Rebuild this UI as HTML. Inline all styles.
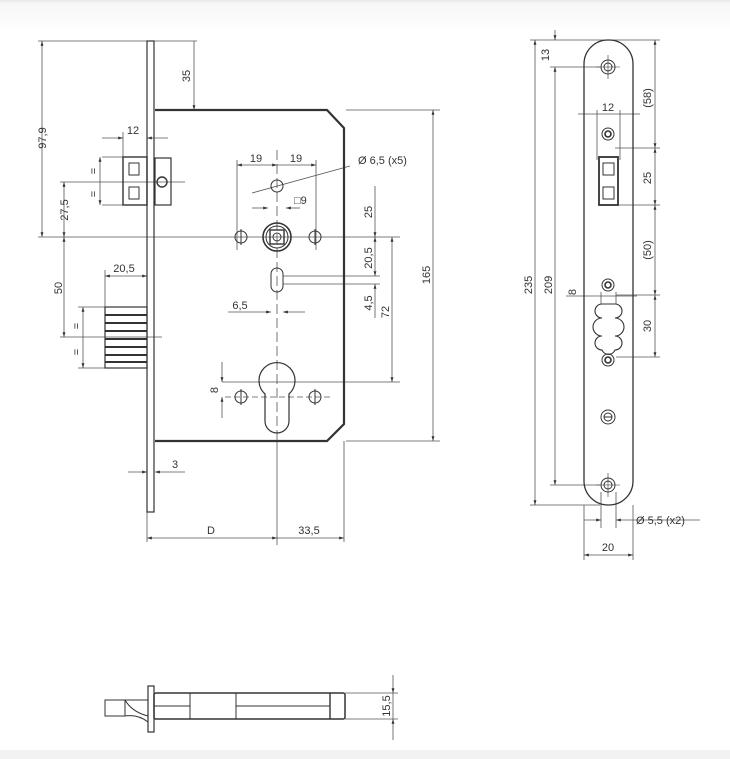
<!DOCTYPE html>
<html><head><style>
html,body{margin:0;padding:0;background:#fff}
svg{display:block}
text{font-family:"Liberation Sans",sans-serif;font-size:11px;fill:#333}
</style></head><body>
<svg width="730" height="759" viewBox="0 0 730 759" xmlns="http://www.w3.org/2000/svg">
<defs>
<linearGradient id="g" x1="0" y1="0" x2="0" y2="1"><stop offset="0" stop-color="#e6e6e6"/><stop offset="0.1" stop-color="#f6f6f6"/><stop offset="1" stop-color="#fff"/></linearGradient>
<marker id="a" viewBox="0 0 10 10" refX="10" refY="5" markerWidth="6" markerHeight="6" orient="auto-start-reverse"><path d="M0,2 L10,5 L0,8z" fill="#333"/></marker>
</defs>
<rect x="0" y="0" width="730" height="32" fill="url(#g)"/>
<rect x="0" y="750" width="730" height="9" fill="#f2f2f2"/>

<g stroke="#555" stroke-width="0.8" fill="none">
<line x1="38" y1="41" x2="197" y2="41"/>
<line x1="38" y1="237" x2="400" y2="237"/>
<line x1="60" y1="182" x2="185" y2="182"/>
<line x1="60" y1="337" x2="162" y2="337"/>
<line x1="346" y1="110" x2="440" y2="110"/>
<line x1="346" y1="441" x2="440" y2="441"/>
<line x1="283" y1="276" x2="380" y2="276"/>
<line x1="283" y1="284" x2="380" y2="284"/>
<line x1="222" y1="382" x2="400" y2="382"/>
<line x1="147" y1="440" x2="147" y2="542"/>
<line x1="344" y1="441" x2="344" y2="542"/>
<line x1="277" y1="430" x2="277" y2="545"/>
<line x1="237" y1="160" x2="237" y2="250"/>
<line x1="316" y1="160" x2="316" y2="250"/>
<line x1="102" y1="157" x2="123" y2="157"/>
<line x1="102" y1="205" x2="123" y2="205"/>
<line x1="78" y1="307" x2="105" y2="307"/>
<line x1="78" y1="368" x2="105" y2="368"/>
<line x1="105" y1="270" x2="105" y2="307"/>
<line x1="123" y1="132" x2="123" y2="157"/>
<line x1="42" y1="41" x2="42" y2="237" marker-start="url(#a)" marker-end="url(#a)"/>
<line x1="194" y1="41" x2="194" y2="110" marker-end="url(#a)"/>
<line x1="64" y1="182" x2="64" y2="237" marker-start="url(#a)" marker-end="url(#a)"/>
<line x1="64" y1="237" x2="64" y2="337" marker-start="url(#a)" marker-end="url(#a)"/>
<line x1="100" y1="157" x2="100" y2="205" marker-start="url(#a)" marker-end="url(#a)"/>
<line x1="83" y1="307" x2="83" y2="368" marker-start="url(#a)" marker-end="url(#a)"/>
<line x1="102" y1="138" x2="123" y2="138" marker-end="url(#a)"/>
<line x1="168" y1="138" x2="147" y2="138" marker-end="url(#a)"/>
<line x1="105" y1="276" x2="147" y2="276" marker-start="url(#a)" marker-end="url(#a)"/>
<line x1="237" y1="165" x2="277" y2="165" marker-start="url(#a)" marker-end="url(#a)"/>
<line x1="277" y1="165" x2="316" y2="165" marker-end="url(#a)"/>
<line x1="277" y1="150" x2="277" y2="430" stroke-dasharray="10,4"/>
<line x1="252" y1="208" x2="268" y2="208" marker-end="url(#a)"/>
<line x1="300" y1="208" x2="286" y2="208" marker-end="url(#a)"/>
<line x1="252" y1="193" x2="350" y2="166"/>
<line x1="228" y1="312" x2="271" y2="312" marker-end="url(#a)"/>
<line x1="305" y1="312" x2="283" y2="312" marker-end="url(#a)"/>
<line x1="375" y1="186" x2="375" y2="237" marker-end="url(#a)"/>
<line x1="375" y1="237" x2="375" y2="276" marker-start="url(#a)" marker-end="url(#a)"/>
<line x1="375" y1="284" x2="375" y2="318" marker-start="url(#a)"/>
<line x1="392" y1="237" x2="392" y2="382" marker-start="url(#a)" marker-end="url(#a)"/>
<line x1="433" y1="110" x2="433" y2="441" marker-start="url(#a)" marker-end="url(#a)"/>
<line x1="222" y1="362" x2="222" y2="382" marker-end="url(#a)"/>
<line x1="222" y1="418" x2="222" y2="397" marker-end="url(#a)"/>
<line x1="128" y1="472" x2="147" y2="472" marker-end="url(#a)"/>
<line x1="185" y1="472" x2="155" y2="472" marker-end="url(#a)"/>
<line x1="147" y1="538" x2="277" y2="538" marker-start="url(#a)" marker-end="url(#a)"/>
<line x1="277" y1="538" x2="344" y2="538" marker-end="url(#a)"/>
<line x1="225" y1="397" x2="330" y2="397" stroke-dasharray="6,3"/>
</g>

<g stroke="#333" fill="none">
<rect x="147" y="41" width="7" height="471" stroke-width="1.2"/>
<path d="M155,110 H327 L344,128 V424 L327,441 H155" stroke-width="2.2"/>
<rect x="123" y="157" width="24" height="48" stroke-width="1.4"/>
<rect x="129" y="163" width="10" height="12"/><rect x="129" y="187" width="10" height="12"/>
<rect x="155" y="158" width="16" height="47" stroke-width="1.2"/>
<circle cx="162" cy="182" r="5" stroke-width="1.4"/>
<rect x="105" y="307" width="42" height="61" stroke-width="1.2"/>
<g stroke-width="2"><line x1="105" y1="315" x2="147" y2="315"/><line x1="105" y1="323" x2="147" y2="323"/><line x1="105" y1="331" x2="147" y2="331"/><line x1="105" y1="339" x2="147" y2="339"/><line x1="105" y1="347" x2="147" y2="347"/><line x1="105" y1="355" x2="147" y2="355"/><line x1="105" y1="362" x2="147" y2="362"/></g>
<circle cx="277" cy="237" r="14" stroke-width="1.6"/><circle cx="277" cy="237" r="11"/>
<rect x="270" y="230" width="14" height="14" stroke-width="1.4"/><circle cx="277" cy="237" r="4"/>
<circle cx="241" cy="237" r="6"/><circle cx="315" cy="237" r="6"/><circle cx="277" cy="186" r="6"/>
<rect x="271" y="268" width="12" height="24" rx="6"/>
<path d="M265,394 A18,18 0 1 1 289,394 V421 A12,12 0 0 1 265,421 Z" stroke-width="1.2"/>
<circle cx="241" cy="397" r="6"/><circle cx="315" cy="397" r="6"/>
<line x1="241" y1="389" x2="241" y2="405"/><line x1="315" y1="389" x2="315" y2="405"/>
<line x1="241" y1="229" x2="241" y2="245"/><line x1="315" y1="229" x2="315" y2="245"/>
</g>
<g>
<text transform="translate(46,138) rotate(-90)" text-anchor="middle">97,9</text>
<text transform="translate(190,76) rotate(-90)" text-anchor="middle">35</text>
<text transform="translate(68,210) rotate(-90)" text-anchor="middle">27,5</text>
<text transform="translate(62,288) rotate(-90)" text-anchor="middle">50</text>
<text transform="translate(97,171) rotate(-90)" text-anchor="middle">=</text>
<text transform="translate(97,194) rotate(-90)" text-anchor="middle">=</text>
<text transform="translate(80,326) rotate(-90)" text-anchor="middle">=</text>
<text transform="translate(80,352) rotate(-90)" text-anchor="middle">=</text>
<text x="133" y="134" text-anchor="middle">12</text>
<text x="124" y="272" text-anchor="middle">20,5</text>
<text x="256" y="162" text-anchor="middle">19</text>
<text x="296" y="162" text-anchor="middle">19</text>
<text x="358" y="164">Ø 6,5 (x5)</text>
<text x="294" y="204">□9</text>
<text x="240" y="309" text-anchor="middle">6,5</text>
<text transform="translate(372,212) rotate(-90)" text-anchor="middle">25</text>
<text transform="translate(372,258) rotate(-90)" text-anchor="middle">20,5</text>
<text transform="translate(372,303) rotate(-90)" text-anchor="middle">4,5</text>
<text transform="translate(389,312) rotate(-90)" text-anchor="middle">72</text>
<text transform="translate(430,275) rotate(-90)" text-anchor="middle">165</text>
<text transform="translate(218,390) rotate(-90)" text-anchor="middle">8</text>
<text x="175" y="468" text-anchor="middle">3</text>
<text x="211" y="534" text-anchor="middle">D</text>
<text x="309" y="534" text-anchor="middle">33,5</text>
</g>

<g stroke="#555" stroke-width="0.8" fill="none">
<line x1="530" y1="40" x2="660" y2="40"/>
<line x1="530" y1="505" x2="600" y2="505"/>
<line x1="550" y1="67" x2="600" y2="67"/>
<line x1="550" y1="485" x2="600" y2="485"/>
<line x1="535" y1="40" x2="535" y2="505" marker-start="url(#a)" marker-end="url(#a)"/>
<line x1="555" y1="67" x2="555" y2="485" marker-start="url(#a)" marker-end="url(#a)"/>
<line x1="555" y1="30" x2="555" y2="40" marker-end="url(#a)"/>
<line x1="655" y1="40" x2="655" y2="148" marker-start="url(#a)" marker-end="url(#a)"/>
<line x1="655" y1="148" x2="655" y2="205" marker-start="url(#a)" marker-end="url(#a)"/>
<line x1="655" y1="205" x2="655" y2="295" marker-start="url(#a)" marker-end="url(#a)"/>
<line x1="655" y1="295" x2="655" y2="357" marker-start="url(#a)" marker-end="url(#a)"/>
<line x1="615" y1="148" x2="660" y2="148"/>
<line x1="615" y1="205" x2="660" y2="205"/>
<line x1="616" y1="295" x2="660" y2="295"/>
<line x1="616" y1="357" x2="660" y2="357"/>
<line x1="578" y1="114" x2="640" y2="114"/>
<line x1="597" y1="110" x2="597" y2="160"/><line x1="620" y1="110" x2="620" y2="160"/>
<line x1="566" y1="296" x2="637" y2="296"/>
<line x1="601" y1="292" x2="601" y2="304"/><line x1="616" y1="292" x2="616" y2="304"/>
<line x1="584" y1="505" x2="584" y2="560"/><line x1="633" y1="505" x2="633" y2="560"/>
<line x1="601" y1="492" x2="601" y2="528"/><line x1="616" y1="492" x2="616" y2="528"/>
<line x1="584" y1="520" x2="601" y2="520" marker-end="url(#a)"/>
<line x1="700" y1="520" x2="616" y2="520" marker-end="url(#a)"/>
<line x1="584" y1="555" x2="633" y2="555" marker-start="url(#a)" marker-end="url(#a)"/>
</g>
<g stroke="#333" fill="none">
<rect x="584" y="40" width="49" height="465" rx="24" ry="24" stroke-width="1.3"/>
<circle cx="608" cy="67" r="7"/><circle cx="608" cy="67" r="4"/>
<circle cx="608" cy="134" r="6"/><circle cx="608" cy="134" r="3" stroke-width="1.6"/>
<rect x="599" y="157" width="19" height="48" stroke-width="1.8"/>
<rect x="603" y="163" width="11" height="12"/><rect x="603" y="187" width="11" height="12"/>
<circle cx="608" cy="285" r="6"/><circle cx="608" cy="285" r="3" stroke-width="1.6"/>
<path d="M602,304 H615 A7,7 0 0 1 615,318 A7,7 0 0 1 615,336 A7,7 0 0 1 615,350 A7,7 0 0 1 602,350 A7,7 0 0 1 602,336 A7,7 0 0 1 602,318 A7,7 0 0 1 602,304 Z" stroke-width="1.1"/>
<circle cx="608" cy="360" r="6"/><circle cx="608" cy="360" r="3" stroke-width="1.6"/>
<circle cx="608" cy="417" r="7"/><circle cx="608" cy="417" r="4"/><line x1="604" y1="417" x2="612" y2="417"/>
<circle cx="608" cy="485" r="7"/><circle cx="608" cy="485" r="4"/>
<line x1="608" y1="55" x2="608" y2="79" stroke-width="0.6"/><line x1="596" y1="67" x2="620" y2="67" stroke-width="0.6"/>
<line x1="608" y1="473" x2="608" y2="497" stroke-width="0.6"/><line x1="596" y1="485" x2="620" y2="485" stroke-width="0.6"/>
</g>
<g>
<text transform="translate(549,55) rotate(-90)" text-anchor="middle">13</text>
<text transform="translate(532,285) rotate(-90)" text-anchor="middle">235</text>
<text transform="translate(552,285) rotate(-90)" text-anchor="middle">209</text>
<text transform="translate(651,98) rotate(-90)" text-anchor="middle">(58)</text>
<text transform="translate(651,178) rotate(-90)" text-anchor="middle">25</text>
<text transform="translate(651,250) rotate(-90)" text-anchor="middle">(50)</text>
<text transform="translate(651,326) rotate(-90)" text-anchor="middle">30</text>
<text transform="translate(576,292) rotate(-90)" text-anchor="middle">8</text>
<text x="608" y="111" text-anchor="middle">12</text>
<text x="636" y="524">Ø 5,5 (x2)</text>
<text x="608" y="551" text-anchor="middle">20</text>
</g>

<g stroke="#333" fill="none">
<rect x="148" y="686" width="6" height="46" stroke-width="1.2"/>
<rect x="154" y="693" width="191" height="26" rx="2" stroke-width="1.5"/>
<line x1="154" y1="706" x2="190" y2="706"/><line x1="236" y1="706" x2="330" y2="706"/>
<line x1="190" y1="693" x2="190" y2="719"/><line x1="236" y1="693" x2="236" y2="719"/>
<line x1="330" y1="693" x2="330" y2="719" stroke-width="1.4"/>
<rect x="105" y="700" width="20" height="16"/>
<path d="M125,700 L148,700 M125,716 Q138,714 148,722 M125,700 Q132,712 148,716"/>
</g>
<g stroke="#555" stroke-width="0.8" fill="none">
<line x1="345" y1="693" x2="398" y2="693"/><line x1="345" y1="719" x2="398" y2="719"/>
<line x1="393" y1="675" x2="393" y2="693" marker-end="url(#a)"/>
<line x1="393" y1="740" x2="393" y2="719" marker-end="url(#a)"/>
<line x1="393" y1="693" x2="393" y2="719"/>
</g>
<text transform="translate(390,706) rotate(-90)" text-anchor="middle">15,5</text>
</svg>
</body></html>
